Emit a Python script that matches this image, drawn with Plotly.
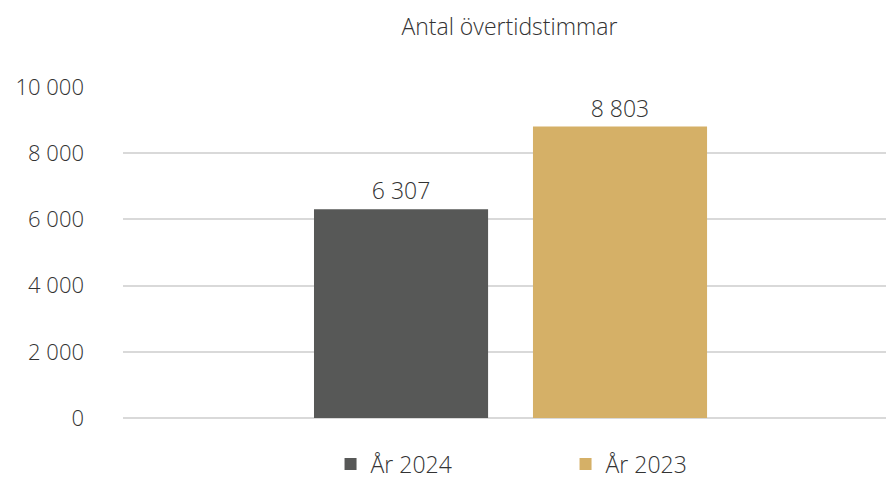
import plotly.graph_objects as go

title = "Antal övertidstimmar"
series_names = ["År 2024", "År 2023"]
series_values = [6307, 8803]
colors = ["#575857", "#D5B067"]
category = [""]
y_ticks = [0, 2000, 4000, 6000, 8000, 10000]
y_tick_labels = ["0", "2 000", "4 000", "6 000", "8 000", "10 000"]

FONT = "Open Sans"
TXT = "#333333"
W = 300

fig = go.Figure()
for name, val, col in zip(series_names, series_values, colors):
    fig.add_trace(go.Bar(
        x=category, y=[val], name=name,
        marker=dict(color=col, line=dict(width=0)),
        text=[f"{val:,}".replace(",", " ")], textposition="outside",
        textfont=dict(family=FONT, size=23, color=TXT, weight=W),
        cliponaxis=False,
    ))

fig.update_layout(
    width=886, height=483,
    margin=dict(l=123, r=0, t=87, b=65, autoexpand=False),
    paper_bgcolor="white", plot_bgcolor="white",
    barmode="group", bargap=0.426, bargroupgap=0.205,
    title=dict(text=title, x=0.575, xanchor="center", y=0.945, yanchor="middle",
               font=dict(family=FONT, size=23, color=TXT, weight=W)),
    font=dict(family=FONT, color=TXT, weight=W),
    showlegend=True,
    legend=dict(orientation="h", x=0.58, xanchor="center", y=-0.074, yanchor="top",
                font=dict(family=FONT, size=23, color=TXT, weight=W),
                entrywidth=190, entrywidthmode="pixels",
                bgcolor="rgba(0,0,0,0)"),
    xaxis=dict(range=[-0.5079, 0.4921], showticklabels=False, showgrid=False,
               zeroline=False, showline=False, fixedrange=True, automargin=False),
    yaxis=dict(range=[0, 10000], tickvals=y_ticks, ticktext=y_tick_labels,
               showgrid=True, gridcolor="#D9D9D9", gridwidth=1.5,
               zeroline=True, zerolinecolor="#D9D9D9", zerolinewidth=2,
               tickfont=dict(family=FONT, size=22, color=TXT, weight=W),
               ticklabelstandoff=38, showline=False, automargin=False),
)

fig.write_html("out.html", config={"displayModeBar": False},
               post_script="document.body.style.margin='0';document.body.style.overflow='hidden';")
